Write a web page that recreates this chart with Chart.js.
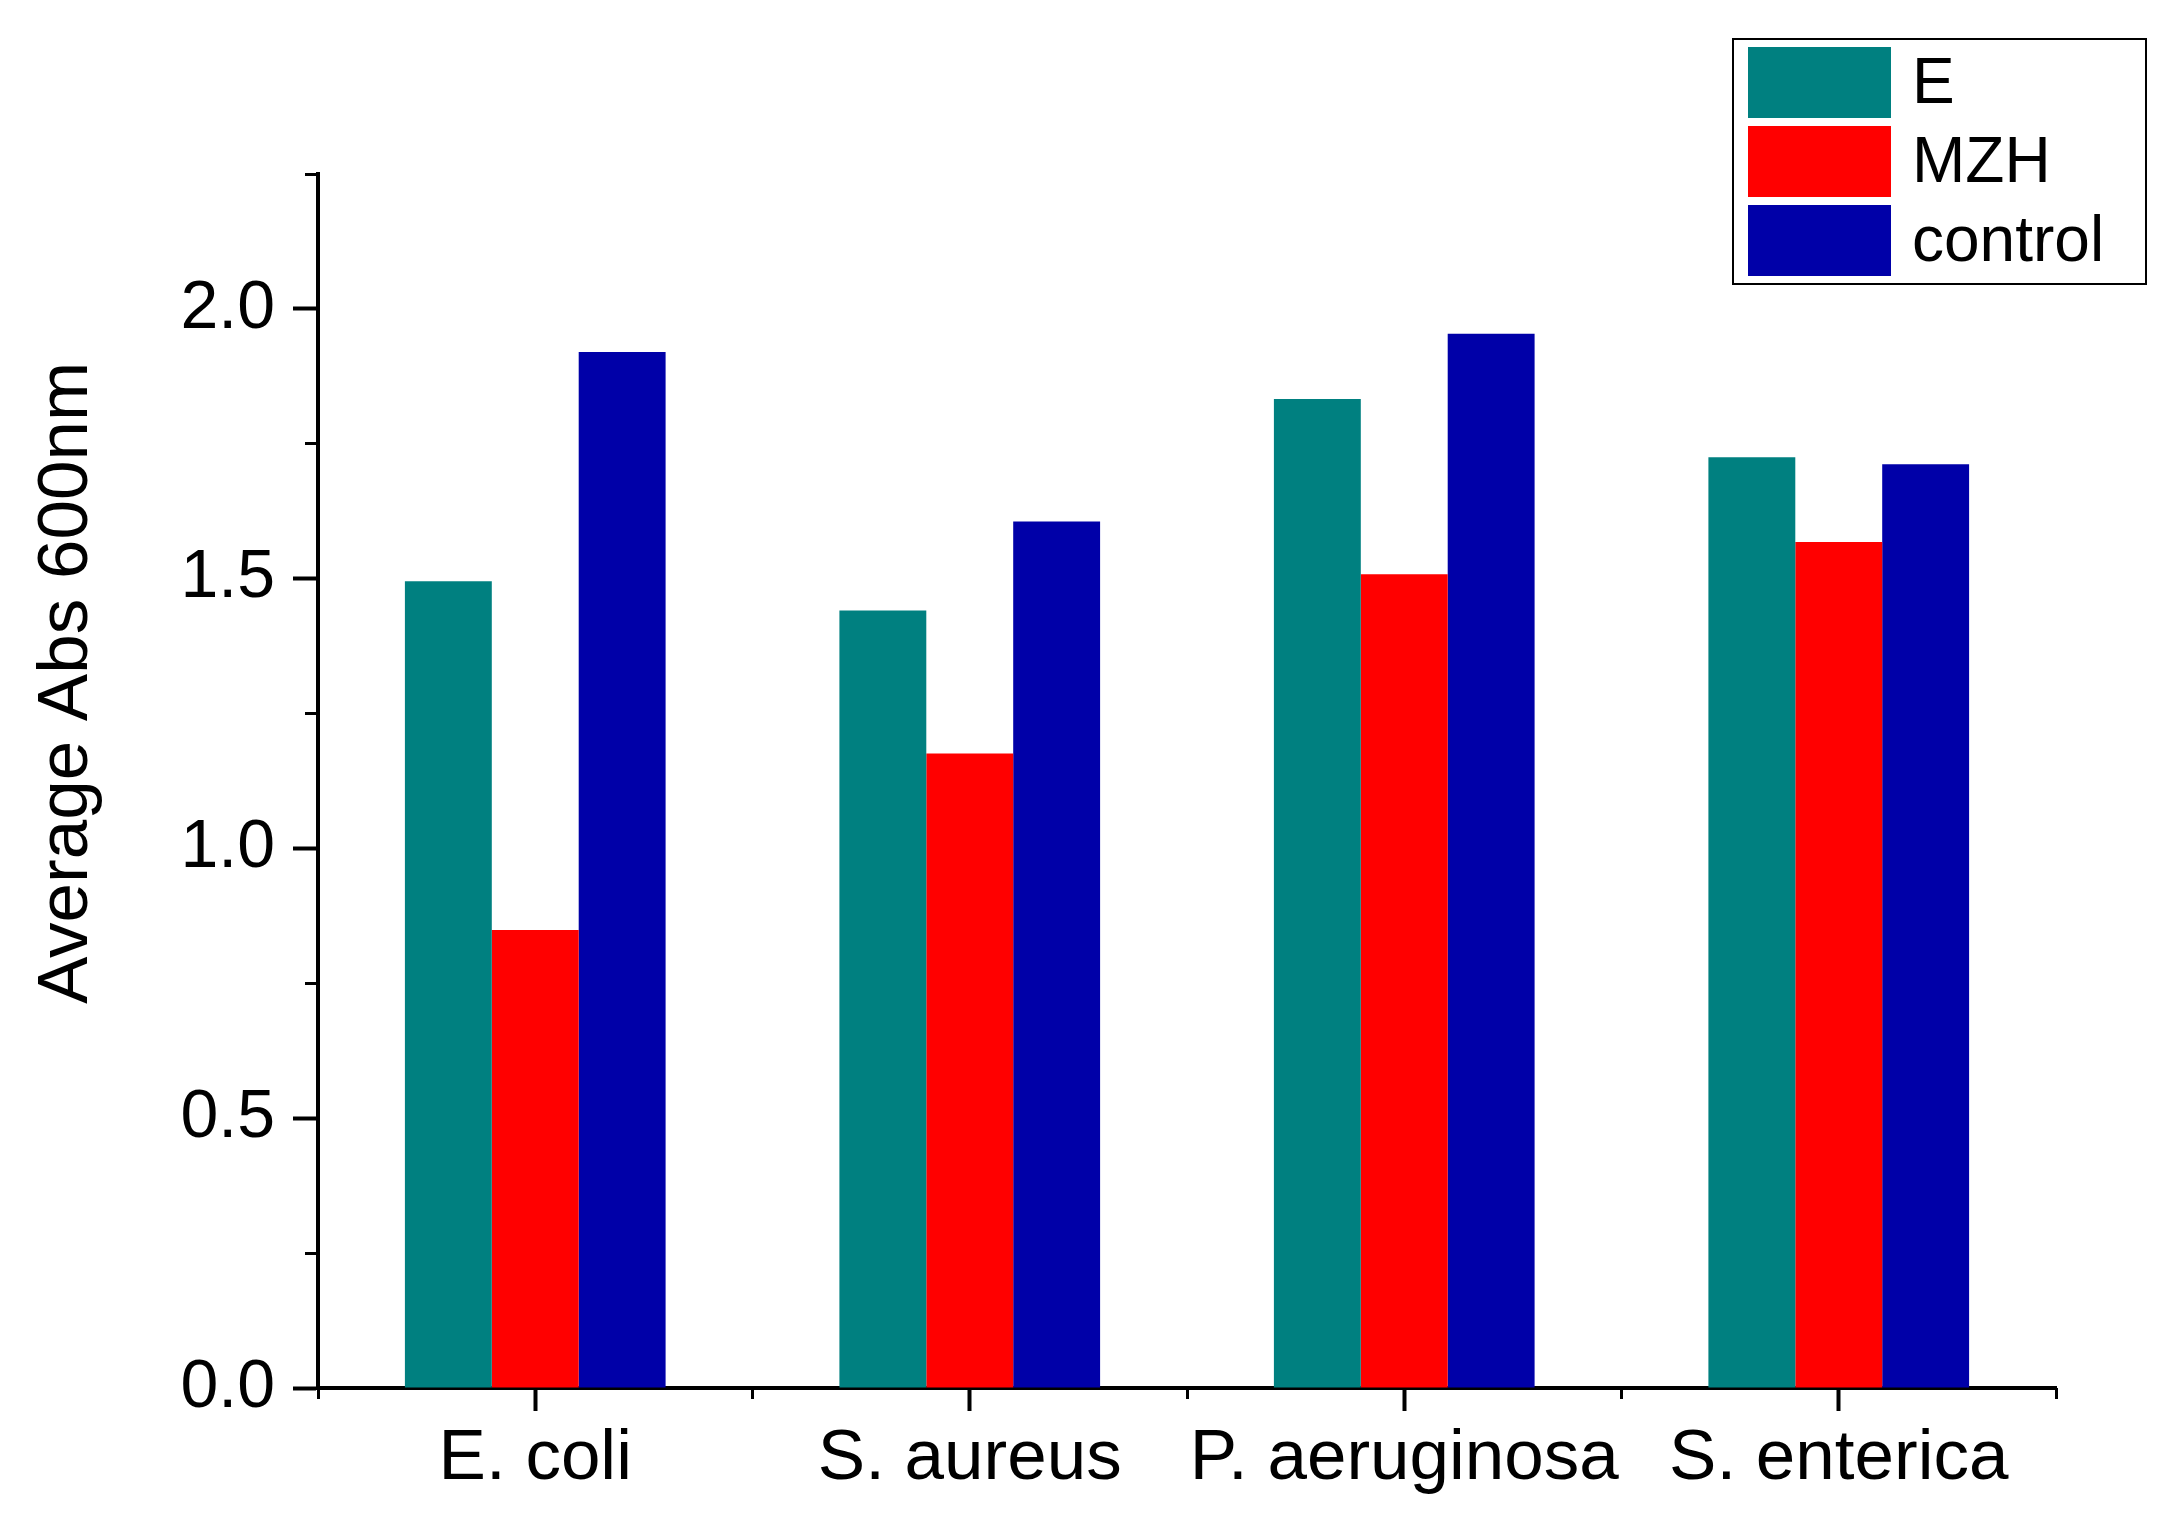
<!DOCTYPE html>
<html>
<head>
<meta charset="utf-8">
<script src="https://cdn.jsdelivr.net/npm/chart.js@4.4.0/dist/chart.umd.min.js"></script>
<style>
  html, body { margin: 0; padding: 0; background: #fff; }
  canvas { display: block; }
</style>
</head>
<body>
<canvas id="chart" width="2181" height="1523"></canvas>
<script>
// bacteria strains on the x axis
const categories = ['E. coli', 'S. aureus', 'P. aeruginosa', 'S. enterica'];

// average absorbance at 600 nm, per treatment
const valuesE = [1.495, 1.441, 1.833, 1.725];
const valuesMZH = [0.849, 1.176, 1.508, 1.568];
const valuesControl = [1.920, 1.606, 1.954, 1.712];

const seriesNames = ['E', 'MZH', 'control'];
const seriesColors = ['#008080', '#FF0000', '#0000A8'];

const yMajorTicks = [0, 0.5, 1.0, 1.5, 2.0];
const yMinorTicks = [0, 0.25, 0.5, 0.75, 1.0, 1.25, 1.5, 1.75, 2.0, 2.25];
const yTitle = 'Average Abs 600nm';

const FONT = '"Liberation Sans", Arial, sans-serif';

// y axis title, placed like the original (not centred on the axis)
const yTitlePlugin = {
    id: 'yTitle',
    afterDraw(chart) {
        const ctx = chart.ctx;
        ctx.save();
        ctx.translate(87, 683);
        ctx.rotate(-Math.PI / 2);
        ctx.font = '71px ' + FONT;
        ctx.fillStyle = '#000';
        ctx.textAlign = 'center';
        ctx.textBaseline = 'alphabetic';
        ctx.fillText(yTitle, 0, 0);
        ctx.restore();
    }
};

// boxed legend in the top right corner
const boxLegend = {
    id: 'boxLegend',
    afterDraw(chart) {
        const ctx = chart.ctx;
        ctx.save();
        ctx.strokeStyle = '#000';
        ctx.lineWidth = 2;
        ctx.strokeRect(1733, 39, 413, 245);
        const rows = [47, 126, 205];
        chart.data.datasets.forEach((ds, i) => {
            ctx.fillStyle = ds.backgroundColor;
            ctx.fillRect(1748, rows[i], 143, 71);
            ctx.fillStyle = '#000';
            ctx.font = '64px ' + FONT;
            ctx.textAlign = 'left';
            ctx.textBaseline = 'middle';
            ctx.fillText(ds.label, 1912, rows[i] + 38);
        });
        ctx.restore();
    }
};

new Chart(document.getElementById('chart'), {
    type: 'bar',
    data: {
        labels: categories,
        datasets: [
            { label: seriesNames[0], data: valuesE, backgroundColor: seriesColors[0] },
            { label: seriesNames[1], data: valuesMZH, backgroundColor: seriesColors[1] },
            { label: seriesNames[2], data: valuesControl, backgroundColor: seriesColors[2] }
        ]
    },
    options: {
        responsive: false,
        animation: false,
        devicePixelRatio: 1,
        layout: { padding: { top: 174, right: 125, left: 0, bottom: 0 } },
        datasets: {
            bar: { categoryPercentage: 0.6, barPercentage: 1.0, borderWidth: 0 }
        },
        plugins: {
            legend: { display: false },
            tooltip: { enabled: false }
        },
        scales: {
            x: {
                type: 'category',
                offset: true,
                weight: 0,
                border: { display: true, color: '#000', width: 4 },
                grid: {
                    offset: false,
                    drawOnChartArea: false,
                    drawTicks: true,
                    tickLength: 23,
                    tickWidth: 4,
                    tickColor: '#000'
                },
                ticks: {
                    color: '#000',
                    font: { family: FONT, size: 71 },
                    padding: 6,
                    autoSkip: false,
                    maxRotation: 0
                },
                afterFit(scale) { scale.height = 135; }
            },
            // minor ticks on the category boundaries
            xMinor: {
                type: 'category',
                labels: categories,
                position: 'bottom',
                weight: -1,
                offset: true,
                border: { display: false },
                grid: {
                    offset: true,
                    drawOnChartArea: false,
                    drawTicks: true,
                    tickLength: 11,
                    tickWidth: 3,
                    tickColor: '#000'
                },
                ticks: { display: false, autoSkip: false },
                afterFit(scale) { scale.height = 0; }
            },
            y: {
                type: 'linear',
                position: 'left',
                weight: 0,
                min: 0,
                max: 2.25,
                border: { display: true, color: '#000', width: 4 },
                grid: {
                    drawOnChartArea: false,
                    drawTicks: true,
                    tickLength: 25,
                    tickWidth: 4,
                    tickColor: '#000'
                },
                ticks: {
                    color: '#000',
                    font: { family: FONT, size: 68 },
                    padding: 18,
                    callback: (v) => Number(v).toFixed(1)
                },
                afterBuildTicks(scale) {
                    scale.ticks = yMajorTicks.map(v => ({ value: v }));
                },
                afterFit(scale) { scale.width = 318; }
            },
            yMinor: {
                type: 'linear',
                position: 'left',
                weight: -1,
                min: 0,
                max: 2.25,
                border: { display: false },
                grid: {
                    drawOnChartArea: false,
                    drawTicks: true,
                    tickLength: 13,
                    tickWidth: 3,
                    tickColor: '#000'
                },
                ticks: { display: false },
                afterBuildTicks(scale) {
                    scale.ticks = yMinorTicks.map(v => ({ value: v }));
                },
                afterFit(scale) { scale.width = 0; }
            }
        }
    },
    plugins: [yTitlePlugin, boxLegend]
});
</script>
</body>
</html>
